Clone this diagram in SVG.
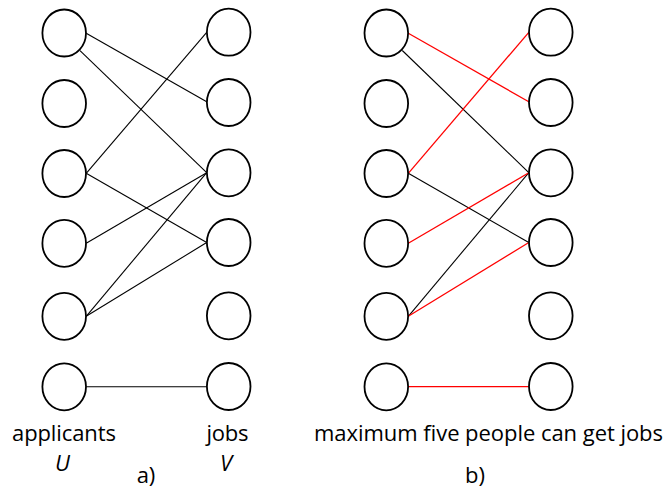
<svg xmlns="http://www.w3.org/2000/svg" width="668" height="491" viewBox="0 0 668 491">
  <style>
    .node { fill: #ffffff; stroke: #000000; stroke-width: 1.8; }
    .edge { stroke: #000000; stroke-width: 1.1; fill: none; }
    .match { stroke: #ff0000; stroke-width: 1.3; fill: none; }
    .lbl { font-family: "Open Sans", "Liberation Sans", sans-serif; font-size: 22px; fill: #000000; }
    .var { font-style: italic; }
  </style>
  <defs>
    <ellipse id="vert" rx="21.8" ry="23.5"/>
  </defs>

  <rect width="668" height="491" fill="#ffffff"/>

  <!-- connectors: panel a (all possible assignments) -->
  <g id="connectors-a">
    <line class="edge" x1="86.2" y1="33.3" x2="206.7" y2="101.7"/>
    <line class="edge" x1="80" y1="50.7" x2="206.7" y2="172.7"/>
    <line class="edge" x1="86.2" y1="173.3" x2="206.7" y2="32.3"/>
    <line class="edge" x1="86.2" y1="173.3" x2="206.7" y2="242.5"/>
    <line class="edge" x1="86.2" y1="243.3" x2="206.7" y2="172.7"/>
    <line class="edge" x1="86.2" y1="316.3" x2="206.7" y2="172.7"/>
    <line class="edge" x1="86.2" y1="316.3" x2="206.7" y2="242.5"/>
    <line class="edge" x1="86.2" y1="386.7" x2="206.7" y2="386.7"/>
  </g>

  <!-- connectors: panel b (maximum matching in red) -->
  <g id="connectors-b">
    <line class="edge" x1="402.3" y1="50.5" x2="528.8" y2="172.7"/>
    <line class="edge" x1="408.3" y1="173.3" x2="528.8" y2="242.5"/>
    <line class="edge" x1="408.3" y1="316.3" x2="528.8" y2="172.7"/>
    <line class="match" x1="408.3" y1="33.3" x2="528.8" y2="101.7"/>
    <line class="match" x1="408.3" y1="173.3" x2="528.8" y2="32.3"/>
    <line class="match" x1="408.3" y1="243.3" x2="528.8" y2="172.7"/>
    <line class="match" x1="408.3" y1="316.3" x2="528.8" y2="242.5"/>
    <line class="match" x1="408.3" y1="386.7" x2="528.8" y2="386.7"/>
  </g>

  <!-- panel a: applicants -->
  <g id="a-u1"><use href="#vert" class="node" x="64.2" y="33"/></g>
  <g id="a-u2"><use href="#vert" class="node" x="64.2" y="103.5"/></g>
  <g id="a-u3"><use href="#vert" class="node" x="64.2" y="173.5"/></g>
  <g id="a-u4"><use href="#vert" class="node" x="64.2" y="243.3"/></g>
  <g id="a-u5"><use href="#vert" class="node" x="64.2" y="316.3"/></g>
  <g id="a-u6"><use href="#vert" class="node" x="64.2" y="386.8"/></g>
  <!-- panel a: jobs -->
  <g id="a-v1"><use href="#vert" class="node" x="228.7" y="32.2"/></g>
  <g id="a-v2"><use href="#vert" class="node" x="228.7" y="102.5"/></g>
  <g id="a-v3"><use href="#vert" class="node" x="228.7" y="172.8"/></g>
  <g id="a-v4"><use href="#vert" class="node" x="228.7" y="242.5"/></g>
  <g id="a-v5"><use href="#vert" class="node" x="228.7" y="315.8"/></g>
  <g id="a-v6"><use href="#vert" class="node" x="228.7" y="386.5"/></g>

  <!-- panel b: applicants -->
  <g id="b-u1"><use href="#vert" class="node" x="386.3" y="33"/></g>
  <g id="b-u2"><use href="#vert" class="node" x="386.3" y="103.5"/></g>
  <g id="b-u3"><use href="#vert" class="node" x="386.3" y="173.5"/></g>
  <g id="b-u4"><use href="#vert" class="node" x="386.3" y="243.3"/></g>
  <g id="b-u5"><use href="#vert" class="node" x="386.3" y="316.3"/></g>
  <g id="b-u6"><use href="#vert" class="node" x="386.3" y="386.8"/></g>
  <!-- panel b: jobs -->
  <g id="b-v1"><use href="#vert" class="node" x="550.8" y="32.2"/></g>
  <g id="b-v2"><use href="#vert" class="node" x="550.8" y="102.5"/></g>
  <g id="b-v3"><use href="#vert" class="node" x="550.8" y="172.8"/></g>
  <g id="b-v4"><use href="#vert" class="node" x="550.8" y="242.5"/></g>
  <g id="b-v5"><use href="#vert" class="node" x="550.8" y="315.8"/></g>
  <g id="b-v6"><use href="#vert" class="node" x="550.8" y="386.5"/></g>

  <!-- captions -->
  <g id="labels">
    <text class="lbl" x="64" y="441" text-anchor="middle" textLength="104">applicants</text>
    <text class="lbl var" x="62.5" y="471" text-anchor="middle">U</text>
    <text class="lbl" x="227.5" y="441" text-anchor="middle" textLength="42">jobs</text>
    <text class="lbl var" x="226" y="471" text-anchor="middle">V</text>
    <text class="lbl" x="146" y="483" text-anchor="middle">a)</text>
    <text class="lbl" x="488.5" y="441" text-anchor="middle" textLength="349">maximum five people can get jobs</text>
    <text class="lbl" x="475" y="483" text-anchor="middle">b)</text>
  </g>
</svg>
